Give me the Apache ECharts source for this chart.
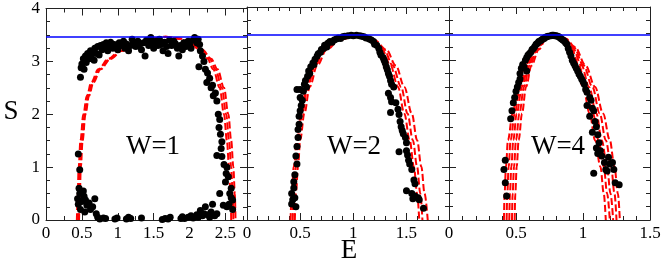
<!DOCTYPE html>
<html>
<head>
<meta charset="utf-8">
<script src="https://cdn.jsdelivr.net/npm/echarts@6/dist/echarts.min.js"></script>
<style>
  html, body { margin: 0; padding: 0; background: #fff; }
  #chart { width: 664px; height: 264px; }
</style>
</head>
<body>
<div id="chart"></div>
<script>
// values: [E, S]
const panelLabels = ['W=1', 'W=2', 'W=4'];
const xMax = [2.8, 1.9, 1.5];
const xMinorSplit = [2, 5, 5];
const yTicks = [0, 1, 2, 3, 4];
const sMax = [3.466]; // blue line, ln 32

const w1Dots = [
  [0.48,2.7],[0.49,2.88],[0.5,2.95],[0.52,3.05],[0.53,2.85],[0.55,3.1],[0.56,2.98],[0.58,3.15],[0.6,3.05],[0.62,3.2],
  [0.63,3.1],[0.65,3.18],[0.67,3.02],[0.68,3.25],[0.7,3.15],[0.72,3.28],[0.74,3.12],[0.76,3.3],[0.78,3.22],[0.8,3.32],
  [0.82,3.26],[0.84,3.35],[0.86,3.2],[0.88,3.3],[0.9,3.36],[0.93,3.25],[0.95,3.32],[0.98,3.28],[1.0,3.22],[1.02,3.35],
  [1.05,3.3],[1.08,3.38],[1.1,3.25],[1.12,3.33],[1.15,3.2],[1.18,3.3],[1.2,3.42],[1.22,3.35],[1.25,3.28],[1.28,3.38],
  [1.3,3.3],[1.33,3.22],[1.36,3.35],[1.38,3.1],[1.4,3.4],[1.43,3.3],[1.46,3.45],[1.48,3.35],[1.5,3.25],[1.53,3.38],
  [1.56,3.3],[1.58,3.42],[1.6,3.32],[1.63,3.2],[1.65,3.36],[1.68,3.28],[1.7,3.15],[1.72,3.4],[1.75,3.3],[1.78,3.38],
  [1.8,3.34],[1.83,3.25],[1.85,3.1],[1.87,3.3],[1.9,3.22],[1.92,3.35],[1.95,3.28],[1.98,3.38],[2.0,3.32],[2.02,3.25],
  [2.05,3.4],[2.07,3.45],[2.1,3.35],[2.12,3.42],[2.14,3.32],[2.15,3.2],[2.13,2.9],[2.18,3.1],
  [2.2,3.0],[2.22,2.85],[2.25,2.78],[2.24,2.6],[2.28,2.68],[2.3,2.5],[2.32,2.55],[2.33,2.35],[2.36,2.4],[2.38,2.25],
  [2.4,2.0],[2.42,1.9],[2.41,1.75],[2.43,1.62],[2.45,1.48],[2.44,1.35],[2.38,1.22],[2.45,1.2],[2.48,1.05],[2.52,1.0],
  [2.51,0.88],[2.54,0.82],[2.5,0.72],[2.42,0.5],[2.56,0.5],[2.58,0.42],[2.6,0.38],[2.55,0.3],[2.6,0.2],[2.52,0.25],
  [2.47,0.28],[2.58,0.6],
  [0.45,1.25],[0.47,0.95],[0.46,0.6],[0.44,0.4],[0.45,0.3],[0.47,0.5],[0.48,0.2],[0.5,0.35],[0.52,0.55],[0.53,0.45],
  [0.55,0.38],[0.54,0.15],[0.57,0.28],[0.6,0.32],[0.62,0.2],[0.65,0.25],[0.68,0.4],[0.7,0.12],[0.72,0.05],[0.75,0.02],
  [0.8,0.04],[0.83,0.03],[0.96,0.02],[0.99,0.04],[1.12,0.02],[1.15,0.05],[1.18,0.03],[1.33,0.04],[1.62,0.01],[1.66,0.03],
  [1.7,0.02],[1.73,0.05],[1.88,0.03],[1.9,0.06],[1.93,0.03],[1.98,0.05],[2.02,0.08],[2.05,0.04],[2.1,0.1],[2.12,0.05],
  [2.15,0.18],[2.18,0.08],[2.2,0.12],[2.22,0.25],[2.25,0.1],[2.28,0.05],[2.3,0.15],[2.32,0.3],[2.35,0.08],[2.38,0.12]
];

const w2Dots = [
  [0.42,0.3],[0.42,0.5],[0.43,0.38],[0.44,0.6],[0.44,0.72],[0.45,0.42],[0.46,0.25],[0.45,0.85],[0.46,1.2],[0.47,1.38],
  [0.47,1.05],[0.48,1.55],[0.48,1.7],[0.49,1.8],[0.49,1.95],[0.5,2.05],[0.51,2.15],[0.5,2.3],[0.52,2.25],[0.47,2.45],
  [0.5,2.45],[0.53,2.42],[0.54,2.55],[0.55,2.62],[0.56,2.5],[0.57,2.7],[0.58,2.8],[0.59,2.75],[0.6,2.88],[0.62,2.95],
  [0.63,2.92],[0.64,3.02],[0.66,3.08],[0.67,3.12],[0.69,3.15],[0.7,3.2],[0.72,3.22],[0.73,3.28],[0.75,3.25],[0.76,3.32],
  [0.78,3.35],[0.8,3.34],[0.82,3.38],[0.84,3.4],[0.86,3.42],[0.88,3.41],[0.9,3.44],[0.92,3.45],[0.95,3.46],[0.98,3.47],
  [1.0,3.46],[1.03,3.47],[1.06,3.46],[1.08,3.45],[1.1,3.44],[1.12,3.42],[1.15,3.4],[1.17,3.38],[1.19,3.35],[1.2,3.3],
  [1.22,3.28],[1.24,3.22],[1.25,3.15],[1.26,3.1],[1.28,3.05],[1.29,3.0],[1.3,2.95],[1.31,2.88],[1.32,2.82],[1.33,2.75],
  [1.34,2.7],[1.35,2.62],[1.36,2.55],[1.38,2.5],[1.33,2.38],[1.35,2.3],[1.36,2.22],[1.4,2.2],[1.35,2.02],[1.42,2.08],
  [1.43,1.98],[1.44,1.85],[1.45,1.75],[1.46,1.68],[1.47,1.62],[1.49,1.55],[1.5,1.45],[1.43,1.28],[1.5,1.3],[1.51,1.22],
  [1.52,1.12],[1.53,1.05],[1.55,0.95],[1.57,0.75],[1.58,0.68],[1.5,0.55],[1.55,0.5],[1.56,0.4],[1.58,0.45],[1.61,0.42],
  [1.62,0.38],[1.66,0.22]
];

const w4Dots = [
  [0.41,0.95],[0.42,0.7],[0.42,1.12],[0.43,0.45],[0.46,1.9],[0.47,2.05],[0.48,2.2],[0.49,2.3],[0.5,2.42],[0.51,2.5],
  [0.52,2.58],[0.53,2.65],[0.53,2.75],[0.54,2.85],[0.55,2.92],[0.56,2.88],[0.57,3.0],[0.58,2.8],[0.58,3.05],[0.59,3.1],
  [0.6,3.12],[0.61,3.15],[0.62,3.2],[0.63,3.22],[0.64,3.26],[0.65,3.3],[0.66,3.32],[0.67,3.35],[0.68,3.36],[0.69,3.38],
  [0.7,3.4],[0.71,3.41],[0.72,3.43],[0.73,3.44],[0.74,3.45],[0.76,3.46],[0.77,3.47],[0.78,3.47],[0.79,3.46],[0.8,3.46],
  [0.81,3.45],[0.82,3.44],[0.83,3.42],[0.84,3.4],[0.85,3.38],[0.86,3.36],[0.87,3.33],[0.88,3.3],[0.89,3.22],[0.9,3.15],
  [0.91,3.08],[0.92,3.0],[0.93,2.95],[0.94,2.9],[0.95,2.85],[0.96,2.8],[0.97,2.74],[0.98,2.7],[0.99,2.65],[1.0,2.6],
  [1.01,2.55],[1.02,2.45],[1.03,2.4],[1.05,2.3],[1.06,2.25],[1.03,2.15],[1.07,2.1],[1.08,2.05],[1.05,1.95],[1.09,1.85],
  [1.1,1.75],[1.07,1.65],[1.11,1.6],[1.12,1.45],[1.1,1.35],[1.13,1.3],[1.11,1.25],[1.14,1.2],[1.16,1.08],[1.19,1.18],
  [1.17,0.95],[1.2,1.05],[1.22,1.08],[1.23,0.95],[1.08,0.88],[1.24,0.7],[1.27,0.66],[1.18,0.92]
];

const w1Curves = [
  [[0.43,0],[0.44,0.4],[0.455,1.0],[0.48,1.5],[0.52,2.0],[0.57,2.35],[0.63,2.6],[0.73,2.85],[0.87,3.05],[1.03,3.2],[1.25,3.35],[1.45,3.43],[1.65,3.466],[1.85,3.43],[2.0,3.35],[2.14,3.22],[2.25,3.05],[2.33,2.85],[2.42,2.5],[2.48,2.0],[2.52,1.5],[2.55,1.0],[2.57,0.5],[2.58,0]],
  [[0.45,0],[0.46,0.4],[0.47,1.0],[0.5,1.5],[0.54,2.0],[0.59,2.35],[0.65,2.6],[0.75,2.85],[0.89,3.05],[1.05,3.2],[1.27,3.35],[1.47,3.43],[1.66,3.466],[1.87,3.43],[2.03,3.35],[2.17,3.22],[2.28,3.05],[2.36,2.85],[2.45,2.5],[2.51,2.0],[2.55,1.5],[2.58,1.0],[2.6,0.5],[2.61,0]],
  [[0.46,0],[0.47,0.4],[0.485,1.0],[0.51,1.5],[0.55,2.0],[0.6,2.35],[0.66,2.6],[0.76,2.85],[0.9,3.05],[1.06,3.2],[1.28,3.35],[1.48,3.43],[1.67,3.466],[1.88,3.43],[2.04,3.35],[2.18,3.22],[2.3,3.05],[2.39,2.85],[2.48,2.5],[2.54,2.0],[2.58,1.5],[2.61,1.0],[2.63,0.5],[2.64,0]]
];

const w2Curves = [
  [[0.45,0],[0.46,0.5],[0.48,1.0],[0.5,1.5],[0.54,2.0],[0.59,2.5],[0.66,2.9],[0.75,3.2],[0.87,3.38],[1.03,3.466],[1.17,3.4],[1.27,3.2],[1.35,2.9],[1.42,2.5],[1.48,2.0],[1.53,1.5],[1.57,1.0],[1.6,0.5],[1.62,0]],
  [[0.43,0],[0.44,0.5],[0.46,1.0],[0.48,1.5],[0.52,2.0],[0.57,2.5],[0.64,2.9],[0.73,3.2],[0.86,3.38],[1.03,3.466],[1.18,3.4],[1.29,3.2],[1.37,2.9],[1.45,2.5],[1.51,2.0],[1.56,1.5],[1.6,1.0],[1.63,0.5],[1.65,0]],
  [[0.41,0],[0.42,0.5],[0.44,1.0],[0.47,1.5],[0.51,2.0],[0.56,2.5],[0.63,2.9],[0.72,3.2],[0.85,3.38],[1.03,3.466],[1.2,3.38],[1.31,3.2],[1.4,2.9],[1.48,2.5],[1.55,2.0],[1.6,1.5],[1.64,1.0],[1.67,0.5],[1.7,0]]
];

const w4Curves = [
  [[0.49,0],[0.495,0.5],[0.505,1.0],[0.52,1.5],[0.545,2.0],[0.575,2.5],[0.615,2.9],[0.67,3.2],[0.72,3.38],[0.78,3.466],[0.85,3.41],[0.9,3.25],[0.95,2.9],[1.0,2.5],[1.05,2.0],[1.09,1.5],[1.13,1.0],[1.155,0.5],[1.17,0]],
  [[0.47,0],[0.475,0.5],[0.485,1.0],[0.5,1.5],[0.525,2.0],[0.56,2.5],[0.6,2.9],[0.66,3.2],[0.715,3.38],[0.78,3.466],[0.855,3.41],[0.91,3.25],[0.97,2.9],[1.02,2.5],[1.075,2.0],[1.115,1.5],[1.155,1.0],[1.18,0.5],[1.2,0]],
  [[0.45,0],[0.455,0.5],[0.465,1.0],[0.48,1.5],[0.505,2.0],[0.545,2.5],[0.59,2.9],[0.65,3.2],[0.71,3.38],[0.78,3.466],[0.86,3.41],[0.92,3.25],[0.99,2.9],[1.045,2.5],[1.1,2.0],[1.14,1.5],[1.18,1.0],[1.205,0.5],[1.225,0]],
  [[0.43,0],[0.435,0.5],[0.445,1.0],[0.46,1.5],[0.49,2.0],[0.53,2.5],[0.58,2.9],[0.64,3.2],[0.705,3.38],[0.78,3.466],[0.865,3.41],[0.93,3.25],[1.005,2.9],[1.07,2.5],[1.125,2.0],[1.17,1.5],[1.21,1.0],[1.235,0.5],[1.25,0]],
  [[0.41,0],[0.415,0.5],[0.425,1.0],[0.44,1.5],[0.475,2.0],[0.515,2.5],[0.57,2.9],[0.63,3.2],[0.7,3.38],[0.78,3.466],[0.87,3.41],[0.94,3.25],[1.02,2.9],[1.09,2.5],[1.15,2.0],[1.2,1.5],[1.235,1.0],[1.26,0.5],[1.275,0]]
];

const dots = [w1Dots, w2Dots, w4Dots];
const curves = [w1Curves, w2Curves, w4Curves];

const FONT = "'Liberation Serif', 'DejaVu Serif', serif";
const FRAME = '#222';
const GRIDS = [
  { left: 46, top: 7, width: 201, height: 213 },
  { left: 247, top: 7, width: 202, height: 213 },
  { left: 449, top: 7, width: 201, height: 213 },
];

const halfStep = v => Math.abs(v * 2 - Math.round(v * 2)) < 1e-6;

function xAx(gi, position) {
  return {
    type: 'value', gridIndex: gi, position,
    min: 0, max: xMax[gi], interval: 0.5,
    axisLine: { show: true, onZero: false, lineStyle: { color: FRAME, width: 1 } },
    axisTick: { inside: true, length: 7, lineStyle: { color: FRAME } },
    minorTick: { show: true, splitNumber: xMinorSplit[gi], length: 4, lineStyle: { color: FRAME } },
    splitLine: { show: false },
    axisLabel: position === 'bottom' ? {
      show: true, color: '#000', fontFamily: FONT, fontSize: 17, margin: 5,
      showMaxLabel: true,
      formatter: v => halfStep(v) ? String(v) : '',
    } : { show: false },
  };
}

function yAx(gi, position) {
  return {
    type: 'value', gridIndex: gi, position,
    min: 0, max: 4, interval: 1,
    axisLine: { show: true, onZero: false, lineStyle: { color: FRAME, width: 1 } },
    axisTick: { inside: true, length: 7, lineStyle: { color: FRAME } },
    minorTick: { show: true, splitNumber: 4, length: 4, lineStyle: { color: FRAME } },
    splitLine: { show: false },
    axisLabel: (gi === 0 && position === 'left') ? {
      show: true, color: '#000', fontFamily: FONT, fontSize: 17, margin: 6,
      formatter: v => yTicks.includes(v) ? String(v) : '',
    } : { show: false },
  };
}

const xAxes = [], yAxes = [], series = [];
GRIDS.forEach((g, i) => {
  xAxes.push(xAx(i, 'bottom'), xAx(i, 'top'));
  yAxes.push(yAx(i, 'left'), yAx(i, 'right'));
  const xi = i * 2, yi = i * 2;
  curves[i].forEach(c => series.push({
    type: 'line', xAxisIndex: xi, yAxisIndex: yi, data: c,
    smooth: 0.35, smoothMonotone: 'x', showSymbol: false, z: 2,
    lineStyle: { color: '#ff0000', width: 2, type: [7, 3] },
  }));
  series.push({
    type: 'scatter', xAxisIndex: xi, yAxisIndex: yi, data: dots[i],
    symbolSize: 7, itemStyle: { color: '#000', opacity: 1 }, z: 3,
    markLine: {
      silent: true, symbol: ['none', 'none'], label: { show: false },
      lineStyle: { color: '#0000ff', width: 1.5, type: 'solid', opacity: 1 },
      data: [{ yAxis: sMax[0] }],
    },
  });
});

const labelX = [153, 354, 558];
const graphic = panelLabels.map((t, i) => ({
  type: 'text', x: labelX[i], y: 147,
  style: { text: t, font: `27px ${FONT}`, fill: '#000', textAlign: 'center', textVerticalAlign: 'middle' },
}));
graphic.push(
  { type: 'text', x: 11, y: 112, style: { text: 'S', font: `27px ${FONT}`, fill: '#000', textAlign: 'center', textVerticalAlign: 'middle' } },
  { type: 'text', x: 349, y: 251, style: { text: 'E', font: `27px ${FONT}`, fill: '#000', textAlign: 'center', textVerticalAlign: 'middle' } },
);

const chart = echarts.init(document.getElementById('chart'), null, { renderer: 'canvas' });
chart.setOption({
  animation: false,
  backgroundColor: '#fff',
  grid: GRIDS,
  xAxis: xAxes,
  yAxis: yAxes,
  series,
  graphic,
});
</script>
</body>
</html>
